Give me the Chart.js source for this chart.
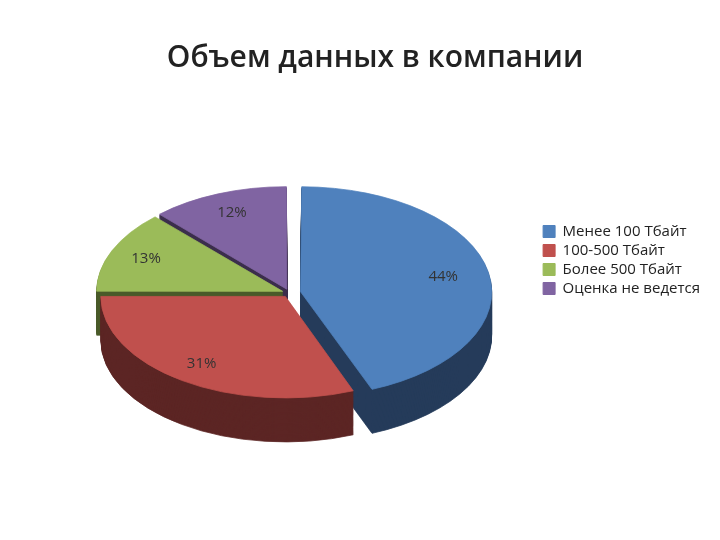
<!DOCTYPE html>
<html><head><meta charset="utf-8">
<script src="https://cdn.jsdelivr.net/npm/chart.js@4/dist/chart.umd.min.js"></script>
<style>body{margin:0;background:#fff}#w{width:720px;height:540px}</style>
</head><body><div id="w"><canvas id="c"></canvas></div>
<script>
const categories = ['Менее 100 Тбайт','100-500 Тбайт','Более 500 Тбайт','Оценка не ведется'];
const values = [44, 31, 13, 12];
const colors = ['#4F81BD','#C0504D','#9BBB59','#8064A2'];
const darkColors = ['#253C5A','#5C2524','#4A5A2A','#3C2F4D'];
const SQ = 0.55, DEPTH = 80;

const threeD = {
  id:'threeD',
  beforeDatasetsDraw(chart){
    const ctx = chart.ctx, meta = chart.getDatasetMeta(0);
    const a = meta.data[0];
    const cx = a.x, cy = a.y;
    ctx.save();
    ctx.translate(cx, cy); ctx.scale(1, SQ); ctx.translate(-cx, -cy);
    for (let d = DEPTH; d > 0; d -= 2) {
      meta.data.forEach((el,i)=>{
        const bg = el.options.backgroundColor, bc = el.options.borderColor;
        el.options.backgroundColor = darkColors[i]; el.options.borderColor = darkColors[i];
        ctx.save(); ctx.translate(0, d); el.draw(ctx); ctx.restore();
        el.options.backgroundColor = bg; el.options.borderColor = bc;
      });
    }
  },
  afterDatasetsDraw(chart){
    const ctx = chart.ctx; ctx.restore();
    const meta = chart.getDatasetMeta(0);
    const cy = meta.data[0].y;
    ctx.save();
    ctx.font = '15px "Open Sans", sans-serif'; ctx.fillStyle = '#333';
    ctx.textAlign = 'center'; ctx.textBaseline = 'middle';
    meta.data.forEach((el,i)=>{
      const p = el.getProps(['x','y','startAngle','endAngle','outerRadius']);
      const m = (p.startAngle + p.endAngle)/2;
      const r = p.outerRadius * 0.85;
      const x = p.x + Math.cos(m)*r;
      const y = cy + (p.y + Math.sin(m)*r - cy)*SQ;
      ctx.fillText(values[i] + '%', x, y);
    });
    ctx.restore();
  }
};

new Chart(document.getElementById('c'), {
  type:'pie',
  data:{labels:categories, datasets:[{data:values, backgroundColor:colors, borderColor:colors, borderWidth:1, offset:[45,30,30,30]}]},
  options:{
    responsive:true, maintainAspectRatio:false, animation:false,
    layout:{padding:{left:40,right:10,top:20,bottom:40}},
    plugins:{
      title:{display:true,text:'Объем данных в компании',color:'#222',font:{family:'"Open Sans", sans-serif',size:30,weight:'600'},padding:{top:20,bottom:10}},
      legend:{position:'right',labels:{boxWidth:12,boxHeight:12,color:'#222',font:{family:'"Open Sans", sans-serif',size:15},padding:4}},
      tooltip:{enabled:false}
    }
  },
  plugins:[threeD]
});
</script></body></html>
